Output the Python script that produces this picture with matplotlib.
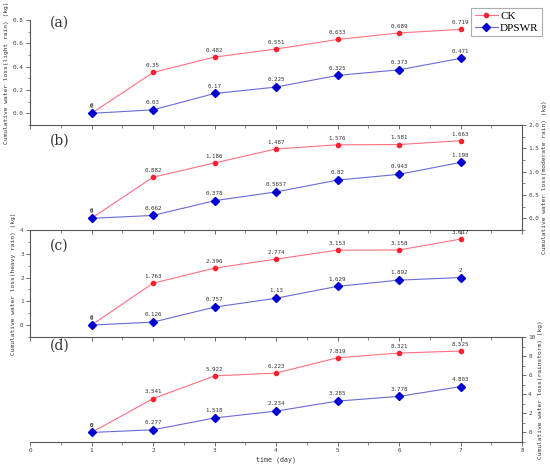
import matplotlib
matplotlib.use("Agg")
import matplotlib.pyplot as plt
from matplotlib.ticker import MultipleLocator
from matplotlib.lines import Line2D

days = [1, 2, 3, 4, 5, 6, 7]

ck_a = [0, 0.35, 0.482, 0.551, 0.633, 0.689, 0.719]
dp_a = [0, 0.03, 0.17, 0.225, 0.325, 0.373, 0.471]
ck_b = [0, 0.882, 1.186, 1.487, 1.576, 1.581, 1.663]
dp_b = [0, 0.062, 0.378, 0.5657, 0.82, 0.943, 1.198]
ck_c = [0, 1.763, 2.396, 2.774, 3.153, 3.158, 3.617]
dp_c = [0, 0.126, 0.757, 1.13, 1.629, 1.892, 2]
ck_d = [0, 3.541, 5.922, 6.223, 7.819, 8.321, 8.525]
dp_d = [0, 0.277, 1.518, 2.234, 3.285, 3.778, 4.803]

panel_tags = ["(a)", "(b)", "(c)", "(d)"]
ylabels = ["Cumulative water loss(light rain) (kg)",
           "Cumulative water loss(moderate rain) (kg)",
           "Cumulative water loss(heavy rain) (kg)",
           "Cumulative water loss(rainstorm) (kg)"]
series_names = ["CK", "DPSWR"]
xlabel = "time (day)"

W, H = 550, 467
fig = plt.figure(figsize=(W / 100, H / 100), dpi=100)

# pixel boxes (top, bottom)
boxes = [(20, 125), (125, 230), (230, 337), (337, 442)]
tag_y_px = [23, 141, 246, 346]
left_px, right_px = 30, 522
ylims = [(-0.1, 0.8), (-0.25, 2.0), (-0.5, 4.0), (-1.0, 10.0)]
ymajor = [0.2, 0.5, 1, 2]
yminor = [0.1, 0.25, 0.5, 1]
sides = ["left", "right", "left", "right"]
data = [(ck_a, dp_a), (ck_b, dp_b), (ck_c, dp_c), (ck_d, dp_d)]

spine_col = "#555555"
ck_line = "#ff7080"
ck_mark = "#ff2030"
dp_line = "#6a6ad8"
dp_mark = "#0000d0"
mono = "DejaVu Sans Mono"

for i, ((top, bot), (ck, dp)) in enumerate(zip(boxes, data)):
    ax = fig.add_axes([left_px / W, 1 - bot / H, (right_px - left_px) / W, (bot - top) / H])
    ax.set_facecolor("none")
    ax.plot(days, ck, color=ck_line, lw=0.8, marker="o", ms=3,
            mfc=ck_mark, mec=ck_mark, zorder=3)
    ax.plot(days, dp, color=dp_line, lw=0.8, marker="D", ms=4.5,
            mfc=dp_mark, mec=dp_mark, zorder=4)
    for x, v in zip(days, ck):
        ax.annotate(f"{v:g}", (x, v), xytext=(0, 3), textcoords="offset points",
                    ha="center", va="bottom", fontsize=4.2, family=mono, color="#333333")
    for x, v in zip(days, dp):
        ax.annotate(f"{v:g}", (x, v), xytext=(0, 3.5), textcoords="offset points",
                    ha="center", va="bottom", fontsize=4.2, family=mono, color="#333333")
    ax.set_xlim(0, 8)
    ax.set_ylim(*ylims[i])
    ax.xaxis.set_major_locator(MultipleLocator(1))
    ax.xaxis.set_minor_locator(MultipleLocator(0.5))
    ax.yaxis.set_major_locator(MultipleLocator(ymajor[i]))
    ax.yaxis.set_minor_locator(MultipleLocator(yminor[i]))
    side = sides[i]
    other = "right" if side == "left" else "left"
    ax.spines["top"].set_visible(False)
    ax.spines[other].set_visible(False)
    for s in (side, "bottom"):
        ax.spines[s].set_color(spine_col)
        ax.spines[s].set_linewidth(0.8)
    if side == "right":
        ax.yaxis.tick_right()
        ax.yaxis.set_label_position("right")
    ax.tick_params(axis="both", which="major", direction="out", length=3, width=0.6,
                   color=spine_col, labelsize=4.3, labelcolor="#444444", pad=1.5)
    ax.tick_params(axis="both", which="minor", direction="out", length=1.8, width=0.5,
                   color=spine_col)
    ax.tick_params(axis="y", which="both", left=(side == "left"), right=(side == "right"),
                   labelleft=(side == "left"), labelright=(side == "right"))
    for lab in ax.get_yticklabels() + ax.get_xticklabels():
        lab.set_family(mono)
    ax.set_ylabel(ylabels[i], fontsize=4.5, family=mono, color="#333333",
                  rotation=90, labelpad=3 if side == "left" else 2)
    if i < 3:
        ax.tick_params(axis="x", labelbottom=False)
    else:
        ax.set_xlabel(xlabel, fontsize=4.8, family=mono, color="#333333", labelpad=2)
    fig.text(50 / W, 1 - tag_y_px[i] / H, panel_tags[i],
             fontsize=10, family="DejaVu Serif", color="#333333", va="center", ha="left")

handles = [Line2D([], [], color=ck_line, lw=0.8, marker="o", ms=3, mfc=ck_mark, mec=ck_mark),
           Line2D([], [], color=dp_line, lw=0.8, marker="D", ms=4.5, mfc=dp_mark, mec=dp_mark)]
leg = fig.legend(handles, series_names, loc="upper right",
                 bbox_to_anchor=(542 / W, 1 - 8 / H),
                 prop={"family": "Liberation Serif", "size": 8},
                 frameon=True, fancybox=False, edgecolor="#999999",
                 handlelength=2.1, handletextpad=0.2, borderpad=0.3,
                 labelspacing=0.2, borderaxespad=0)
leg.get_frame().set_linewidth(0.8)

fig.savefig("out.png", dpi=100)
